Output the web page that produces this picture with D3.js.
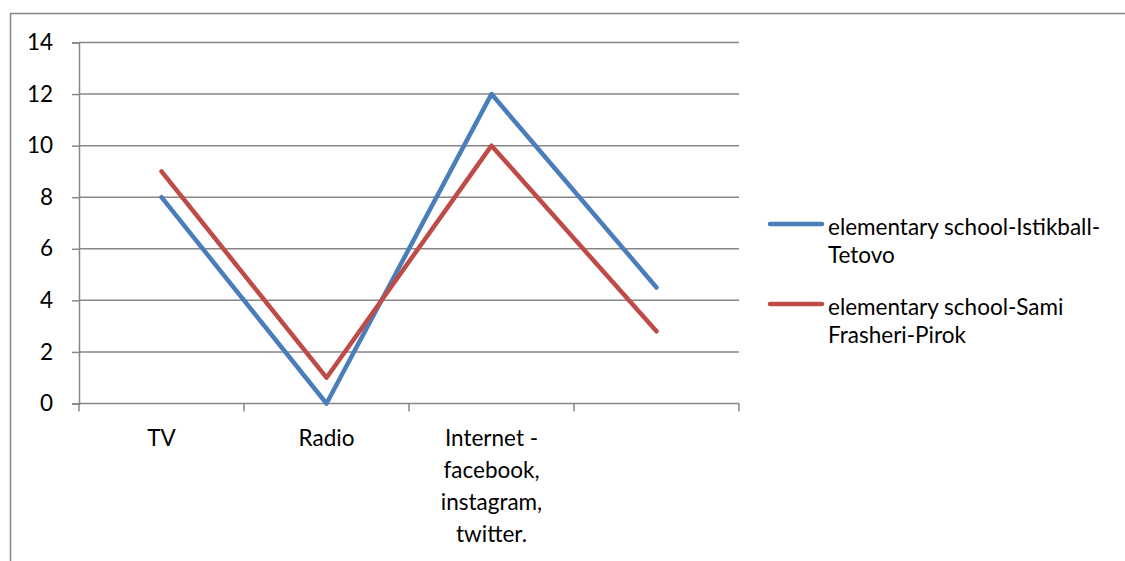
<!DOCTYPE html>
<html>
<head>
<meta charset="utf-8">
<script src="https://cdn.jsdelivr.net/npm/d3@7"></script>
<style>
  html, body { margin: 0; padding: 0; background: #fff; }
  svg { display: block; font-family: Lato, "Open Sans", sans-serif; }
</style>
</head>
<body>
<svg id="chart" width="1125" height="561"></svg>
<script>
// Categories (the fourth one has no label)
const categories = ["TV", "Radio", "Internet - facebook, instagram, twitter.", ""];
const categoryLines = [["TV"], ["Radio"], ["Internet -", "facebook,", "instagram,", "twitter."], []];
const seriesNames = ["elementary school-Istikball-Tetovo", "elementary school-Sami Frasheri-Pirok"];
const legendLines = [["elementary school-Istikball-", "Tetovo"], ["elementary school-Sami", "Frasheri-Pirok"]];
const istikballValues = [8, 0, 12, 4.5];
const samiFrasheriValues = [9, 1, 10, 2.8];
const yTicks = [0, 2, 4, 6, 8, 10, 12, 14];
const seriesColors = ["#4a7ebb", "#be4b48"];

const svg = d3.select("#chart");
const gridColor = "#868686";
const fontSize = 22.5;

// outer chart frame
svg.append("rect")
  .attr("x", 10.5).attr("y", 13.5)
  .attr("width", 1200).attr("height", 600)
  .attr("fill", "none").attr("stroke", gridColor).attr("stroke-width", 1.5);

const plot = { left: 79, right: 739, top: 42.5, bottom: 403.5 };

const x = d3.scaleBand().domain(categories).range([plot.left, plot.right]).paddingInner(0).paddingOuter(0);
const y = d3.scaleLinear().domain([0, 14]).range([plot.bottom, plot.top]);

// horizontal gridlines
svg.append("g").selectAll("line").data(yTicks.filter(d => d > 0)).join("line")
  .attr("x1", plot.left).attr("x2", plot.right)
  .attr("y1", d => y(d)).attr("y2", d => y(d))
  .attr("stroke", gridColor).attr("stroke-width", 1.5);

// y axis
const yAxis = svg.append("g")
  .attr("transform", `translate(${plot.left},0)`)
  .call(d3.axisLeft(y).tickValues(yTicks).tickSize(7).tickPadding(19));
yAxis.select(".domain").attr("stroke", gridColor).attr("stroke-width", 1.5);
yAxis.selectAll(".tick line").attr("stroke", gridColor).attr("stroke-width", 1.5);
yAxis.selectAll(".tick text")
  .attr("font-size", fontSize).attr("font-family", "Lato, sans-serif").attr("fill", "#000");

// x axis: tick marks at category boundaries
const boundaries = categories.map(c => x(c)).concat([plot.right]);
svg.append("line")
  .attr("x1", plot.left).attr("x2", plot.right)
  .attr("y1", plot.bottom).attr("y2", plot.bottom)
  .attr("stroke", gridColor).attr("stroke-width", 1.5);
svg.append("g").selectAll("line").data(boundaries).join("line")
  .attr("x1", d => d).attr("x2", d => d)
  .attr("y1", plot.bottom).attr("y2", plot.bottom + 8)
  .attr("stroke", gridColor).attr("stroke-width", 1.5);

// category labels
const catG = svg.append("g");
categories.forEach((c, i) => {
  const t = catG.append("text")
    .attr("x", x(c) + x.bandwidth() / 2)
    .attr("y", 446)
    .attr("text-anchor", "middle")
    .attr("font-size", fontSize).attr("fill", "#000");
  categoryLines[i].forEach((ln, j) => {
    t.append("tspan").attr("x", x(c) + x.bandwidth() / 2).attr("dy", j === 0 ? 0 : 32).text(ln);
  });
});

// series lines
const line = d3.line()
  .x((d, i) => x(categories[i]) + x.bandwidth() / 2)
  .y(d => y(d));
[istikballValues, samiFrasheriValues].forEach((vals, k) => {
  svg.append("path")
    .datum(vals)
    .attr("d", line)
    .attr("fill", "none")
    .attr("stroke", seriesColors[k])
    .attr("stroke-width", 4.5)
    .attr("stroke-linejoin", "round")
    .attr("stroke-linecap", "round");
});

// legend
const legendY = [224, 304];
seriesNames.forEach((name, k) => {
  svg.append("line")
    .attr("x1", 770).attr("x2", 822)
    .attr("y1", legendY[k]).attr("y2", legendY[k])
    .attr("stroke", seriesColors[k]).attr("stroke-width", 4.5)
    .attr("stroke-linecap", "round");
  const t = svg.append("text")
    .attr("x", 828).attr("y", legendY[k] + 11)
    .attr("font-size", fontSize).attr("fill", "#000");
  legendLines[k].forEach((ln, j) => {
    t.append("tspan").attr("x", 828).attr("dy", j === 0 ? 0 : 28).text(ln);
  });
});
</script>
</body>
</html>
